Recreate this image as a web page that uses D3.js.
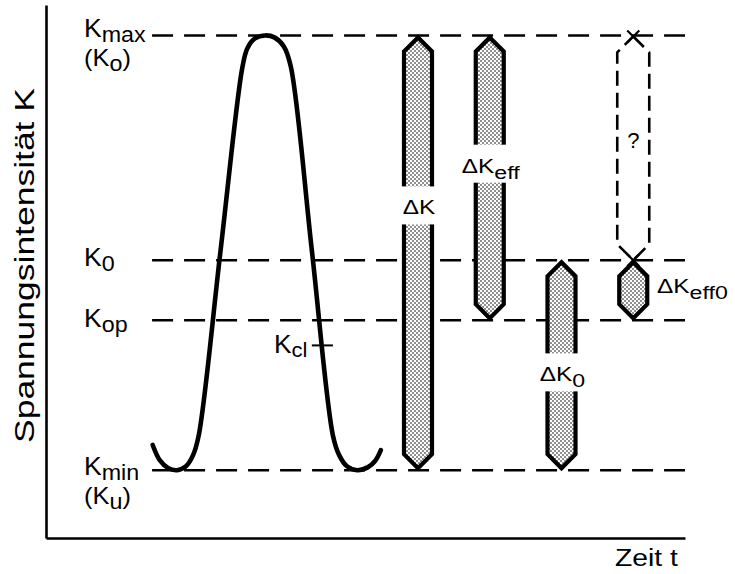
<!DOCTYPE html>
<html>
<head>
<meta charset="utf-8">
<script src="https://cdn.jsdelivr.net/npm/d3@7"></script>
<style>
  html, body { margin: 0; padding: 0; background: #fff; }
  text { font-family: "Liberation Sans", Arial, Helvetica, sans-serif; fill: #000; }
</style>
</head>
<body>
<svg id="chart" width="735" height="574"></svg>
<script>
// Stress-intensity levels, normalised so that Kmin = 0 and Kmax = 1
const levelSubs   = ["max", "0", "op", "min"];
const levelAlt    = ["o", "", "", "u"];          // alternative notation (Ko, Ku)
const levelValues = [1, 0.483, 0.345, 0];

// Crack-closure level, marked on the unloading flank
const kclValue = 0.287;

// One load cycle: time (arbitrary units) and stress intensity
const cycleT = [16.7, 17.8, 19.1, 20.5, 21.9, 23.0, 23.9, 27.3, 30.7, 31.5, 32.7, 34.3,
                35.8, 37.2, 38.3, 41.6, 44.9, 45.9, 47.1, 48.7, 50.4, 51.5, 52.4];
const cycleK = [0.058, 0.023, 0.005, 0, 0.009, 0.034, 0.080, 0.503, 0.924, 0.970, 0.993, 1.0,
                0.995, 0.975, 0.929, 0.506, 0.080, 0.034, 0.009, 0, 0.007, 0.021, 0.046];

// Stress-intensity ranges drawn as bars
const rangeSubs = ["", "eff", "0", "eff0"];
const rangeLow  = [0, 0.345, 0, 0.345];
const rangeHigh = [1, 1, 0.483, 0.483];

// Range whose effective part is unknown (above K0)
const unknownRange = [0.483, 1];

// ---------------------------------------------------------------------------
const svg = d3.select("#chart");

const x = d3.scaleLinear().domain([0, 100]).range([46, 685]);
const y = d3.scaleLinear().domain([-0.156, 1.07]).range([538, 5]);
const slot = d3.scalePoint().domain(d3.range(5)).range([418, 705]);

// Stipple fill for the range bars
const defs = svg.append("defs");
const pat = defs.append("pattern").attr("id", "stipple")
  .attr("patternUnits", "userSpaceOnUse").attr("width", 4).attr("height", 4);
pat.append("rect").attr("width", 4).attr("height", 4).attr("fill", "#fff");
pat.append("circle").attr("cx", 1).attr("cy", 1).attr("r", 0.8).attr("fill", "#000");
pat.append("circle").attr("cx", 3).attr("cy", 3).attr("r", 0.8).attr("fill", "#000");

// Axes: plain lines without ticks
const xAxis = svg.append("g").attr("transform", `translate(0,${y.range()[0]})`)
  .call(d3.axisBottom(x).tickValues([]).tickSizeOuter(0));
const yAxis = svg.append("g").attr("transform", `translate(${x.range()[0]},0)`)
  .call(d3.axisLeft(y).tickValues([]).tickSizeOuter(0));
[xAxis, yAxis].forEach(a => a.select(".domain").attr("stroke", "#000").attr("stroke-width", 2.6));

// Dashed level lines
svg.append("g").selectAll("line").data(levelValues).join("line")
  .attr("x1", x(16.6)).attr("x2", x(100))
  .attr("y1", d => y(d)).attr("y2", d => y(d))
  .attr("stroke", "#000").attr("stroke-width", 2.4)
  .attr("stroke-dasharray", "21,11");

// Load cycle
const cycle = cycleT.map((t, i) => [t, cycleK[i]]);
svg.append("path").datum(cycle)
  .attr("d", d3.line().x(d => x(d[0])).y(d => y(d[1])).curve(d3.curveCatmullRom.alpha(0.5)))
  .attr("fill", "none").attr("stroke", "#000").attr("stroke-width", 4.6)
  .attr("stroke-linecap", "round");

// Kcl marker, crossing the unloading flank
svg.append("line")
  .attr("x1", x(41.6)).attr("x2", x(44.9))
  .attr("y1", y(kclValue)).attr("y2", y(kclValue))
  .attr("stroke", "#000").attr("stroke-width", 2);

// Hexagonal bar outline between two K values
function barPath(xc, hw, kLo, kHi) {
  const yT = y(kHi) + 2, yB = y(kLo) - 2;
  return `M${xc - hw},${yT + hw}L${xc},${yT}L${xc + hw},${yT + hw}` +
         `L${xc + hw},${yB - hw}L${xc},${yB}L${xc - hw},${yB - hw}Z`;
}

// Text with subscripts; parts = [[text, isSub], ...]
function label(parent, px, py, parts, o) {
  const size = o.size, sub = o.sub, dy = o.dy, sx = o.sx || 1;
  const g = parent.append("g").attr("transform", `translate(${px},${py}) scale(${sx},1)`);
  const t = g.append("text").attr("text-anchor", o.anchor || "start")
    .style("font-size", size + "px");
  let shifted = false;
  parts.forEach(([s, isSub]) => {
    const ts = t.append("tspan").text(s);
    if (isSub && !shifted) { ts.attr("dy", dy); shifted = true; }
    else if (!isSub && shifted) { ts.attr("dy", -dy); shifted = false; }
    if (isSub) ts.style("font-size", sub + "px");
  });
  return g;
}

const hw = 14;
const barLabelAt = [0.609, 0.705, 0.225, null];   // K at label centre inside the bar
const bars = svg.append("g");
rangeSubs.forEach((s, i) => {
  const xc = slot(i);
  bars.append("path").attr("d", barPath(xc, hw, rangeLow[i], rangeHigh[i]))
    .attr("fill", "url(#stipple)").attr("stroke", "#000").attr("stroke-width", 4.2)
    .attr("stroke-linejoin", "miter");
  const parts = [["\u0394K", false]];
  if (s) parts.push([s, true]);
  if (barLabelAt[i] !== null) {
    const yc = y(barLabelAt[i]);
    bars.append("rect").attr("x", xc - hw - 4).attr("y", yc - 19)
      .attr("width", 2 * hw + 8).attr("height", 38).attr("fill", "#fff");
    label(bars, xc + 1, yc + 9, parts, { size: 20, sub: 19, dy: 6, sx: 1.22, anchor: "middle" });
  } else {
    label(bars, 657, 293, parts, { size: 20, sub: 19, dy: 6, sx: 1.22 });
  }
});

// Unknown range, dashed outline with crossing lines at both tips
{
  const xc = slot(3), w = 16;
  const yT = y(unknownRange[1]) + 1, yB = y(unknownRange[0]);
  svg.append("path")
    .attr("d", `M${xc},${yT}L${xc + w},${yT + w}L${xc + w},${yB - w}L${xc},${yB}` +
               `L${xc - w},${yB - w}L${xc - w},${yT + w}Z`)
    .attr("fill", "none").attr("stroke", "#000").attr("stroke-width", 2.6)
    .attr("stroke-dasharray", "15,7").attr("stroke-linejoin", "round");
  const c = 6;
  svg.append("path")
    .attr("d", `M${xc - c},${yB - c}L${xc + c},${yB + c}M${xc + c},${yB - c}L${xc - c},${yB + c}` +
               `M${xc - c},${yT - c}L${xc + c},${yT + c}M${xc + c},${yT - c}L${xc - c},${yT + c}`)
    .attr("stroke", "#000").attr("stroke-width", 2.2);
  svg.append("text").attr("x", xc).attr("y", y(0.74)).attr("text-anchor", "middle")
    .style("font-size", "22px").text("?");
}

// Level labels
const lab = svg.append("g");
const levelLabelDy = [2, 6, 7, 5];
levelValues.forEach((v, i) => {
  label(lab, 84, y(v) + levelLabelDy[i], [["K", false], [levelSubs[i], true]],
        { size: 25, sub: 22, dy: 5, sx: 1.06 });
  if (levelAlt[i]) {
    label(lab, 84, y(v) + levelLabelDy[i] + 29, [["(K", false], [levelAlt[i], true], [")", false]],
          { size: 24, sub: 22, dy: 5, sx: 1.06 });
  }
});

// Kcl label
label(lab, 274, y(kclValue) + 8, [["K", false], ["cl", true]], { size: 25, sub: 21, dy: 4, sx: 1.05 });

// Axis titles
svg.append("text")
  .attr("transform", `translate(34,${(88 + 443) / 2}) rotate(-90)`)
  .attr("text-anchor", "middle")
  .attr("textLength", 355).attr("lengthAdjust", "spacingAndGlyphs")
  .style("font-size", "27px")
  .text("Spannungsintensität K");

label(svg, 615, 566, [["Zeit t", false]], { size: 24, sub: 24, dy: 0, sx: 1.18 });
</script>
</body>
</html>
